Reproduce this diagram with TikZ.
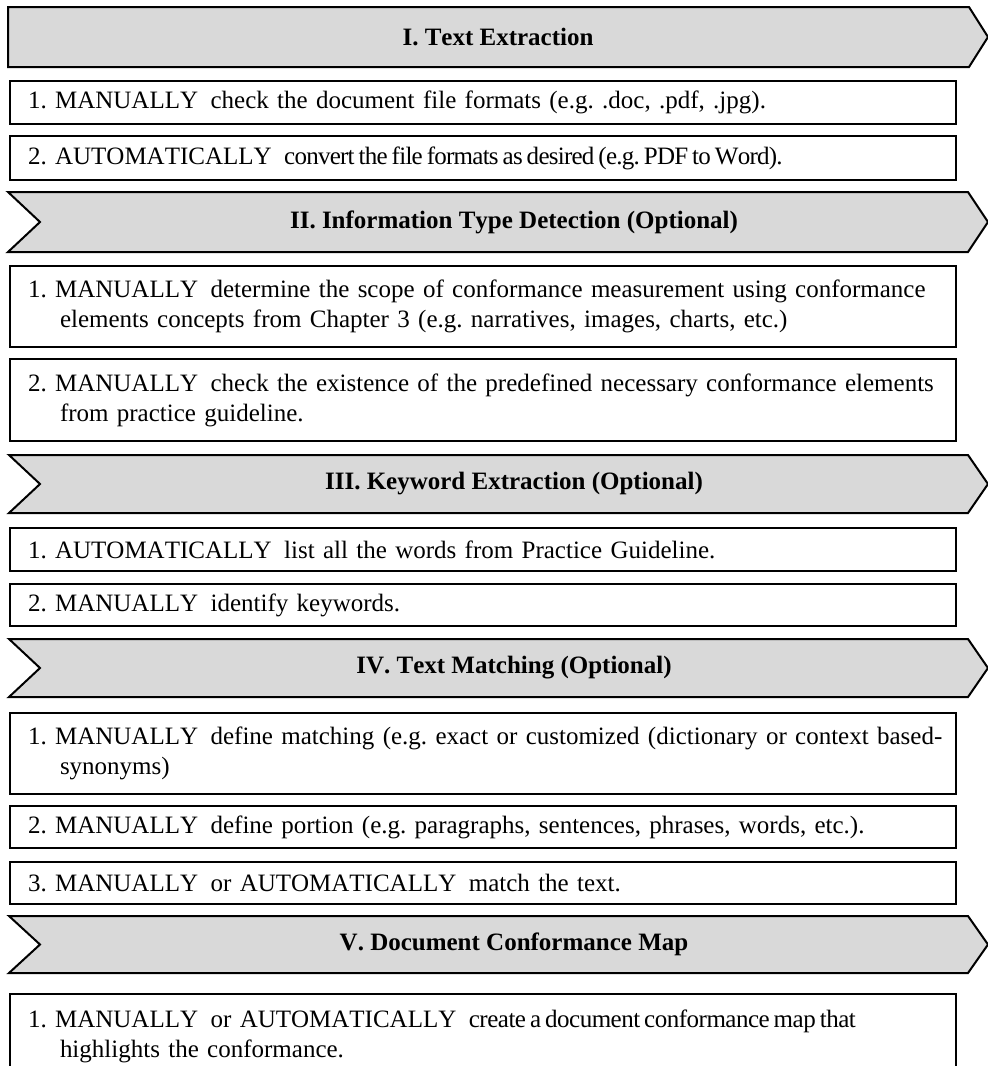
\documentclass[tikz,border=0pt]{standalone}
\usepackage{fontspec}
\setmainfont[Kerning=Off,Ligatures=NoCommon]{Liberation Serif}
\definecolor{hdrgray}{HTML}{D9D9D9}
% capital keyword followed by a double-width gap
\newcommand\capsword[1]{#1\hspace{0.5em}}
% run of text set with condensed character spacing
\newcommand\tight[2]{{\addfontfeature{LetterSpace=#1}\spaceskip=0.16em\relax #2}}
\begin{document}
\frenchspacing
\begin{tikzpicture}[x=1pt,y=-1pt,
  hdr/.style={draw=black, line width=2pt, fill=hdrgray, line join=miter},
  hdrtext/.style={font=\fontsize{25}{30}\selectfont\bfseries, inner sep=0pt},
  stepbox/.style={draw=black, line width=2pt, anchor=north west,
    text width=910pt, inner xsep=18pt, inner ysep=0pt, align=left,
    font=\fontsize{25}{30}\selectfont}
]
\useasboundingbox (0,0) rectangle (988,1066);
\clip (0,0) rectangle (988,1066);

% section chevrons
\draw[hdr] (8,7) -- (969,7) -- (988,37) -- (969,67) -- (8,67) -- cycle;
\node[hdrtext] (h1) at (498,37) {I. Text Extraction};

\draw[hdr] (8,192) -- (968,192) -- (988,222) -- (968,252) -- (8,252) -- (40,222) -- cycle;
\node[hdrtext] (h2) at (514,222) {II. Information Type Detection (Optional)};

\draw[hdr] (9,455) -- (968,455) -- (988,484) -- (968,513) -- (9,513) -- (40,484) -- cycle;
\node[hdrtext] (h3) at (514,484) {III. Keyword Extraction (Optional)};

\draw[hdr] (9,639) -- (968,639) -- (988,668) -- (968,697) -- (9,697) -- (40,668) -- cycle;
\node[hdrtext] (h4) at (514,668) {IV. Text Matching (Optional)};

\draw[hdr] (9,916) -- (968,916) -- (988,944.5) -- (968,973) -- (9,973) -- (40,944.5) -- cycle;
\node[hdrtext] (h5) at (514,944.5) {V. Document Conformance Map};

% step boxes
\node[stepbox, minimum height=43pt] (s11) at (9,80)
  {\mbox{1. \capsword{MANUALLY}check the document file formats (e.g. .doc, .pdf, .jpg).}};
\node[stepbox, minimum height=44pt] (s12) at (9,135)
  {\mbox{2. \capsword{AUTOMATICALLY}\tight{-3}{convert the file formats as desired (e.g. PDF to Word).}}};

\node[stepbox, minimum height=81pt] (s21) at (9,265)
  {\mbox{1. \capsword{MANUALLY}determine the scope of conformance measurement using conformance}\\
   \hspace*{32pt}elements concepts from Chapter 3 (e.g. narratives, images, charts, etc.)};
\node[stepbox, minimum height=82pt] (s22) at (9,358)
  {\mbox{2. \capsword{MANUALLY}check the existence of the predefined necessary conformance elements}\\
   \hspace*{32pt}from practice guideline.};

\node[stepbox, minimum height=43pt] (s31) at (9,527)
  {\mbox{1. \capsword{AUTOMATICALLY}list all the words from Practice Guideline.}};
\node[stepbox, minimum height=42pt] (s32) at (9,583)
  {\mbox{2. \capsword{MANUALLY}identify keywords.}};

\node[stepbox, minimum height=81pt] (s41) at (9,712)
  {\mbox{1. \capsword{MANUALLY}define matching (e.g. exact or customized (dictionary or context based-}\\
   \hspace*{32pt}synonyms)};
\node[stepbox, minimum height=42pt] (s42) at (9,805)
  {\mbox{2. \capsword{MANUALLY}define portion (e.g. paragraphs, sentences, phrases, words, etc.).}};
\node[stepbox, minimum height=42pt] (s43) at (9,861)
  {\mbox{3. \capsword{MANUALLY}or \capsword{AUTOMATICALLY}match the text.}};

\node[stepbox, minimum height=85pt] (s51) at (9,993)
  {\mbox{1. \capsword{MANUALLY}or \capsword{AUTOMATICALLY}\tight{-2}{create a document conformance map that}}\\
   \hspace*{32pt}highlights the conformance.};
\end{tikzpicture}
\end{document}
